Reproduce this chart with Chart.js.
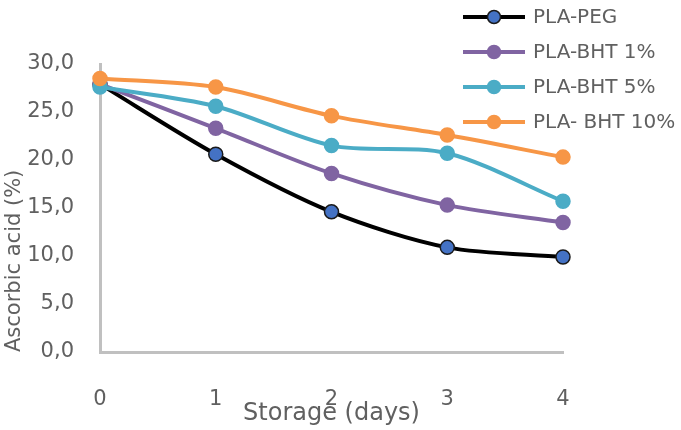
<!DOCTYPE html>
<html>
<head>
<meta charset="utf-8">
<script src="https://cdn.jsdelivr.net/npm/chart.js@4/dist/chart.umd.min.js"></script>
<style>
  html, body { margin: 0; padding: 0; background: #fff; }
  #wrap { width: 681px; height: 430px; }
</style>
</head>
<body>
<div id="wrap"><canvas id="lineChart" width="681" height="430"></canvas></div>
<script>
// data

const days = ['0', '1', '2', '3', '4'];

const seriesNames = ['PLA-PEG', 'PLA-BHT 1%', 'PLA-BHT 5%', 'PLA- BHT 10%'];

const plaPeg = [27.9, 20.6, 14.6, 10.9, 9.9];
const plaBht1 = [27.9, 23.3, 18.6, 15.3, 13.5];
const plaBht5 = [27.6, 25.6, 21.5, 20.7, 15.7];
const plaBht10 = [28.5, 27.6, 24.6, 22.6, 20.3];

const yTicks = [0, 5, 10, 15, 20, 25, 30];

const textColor = '#606060';
const fontName = '"DejaVu Sans", sans-serif';

// legend drawn top right, over the plot like in the original
const legendBox = {
    id: 'legendBox',
    afterDraw(chart) {
        const ctx = chart.ctx;
        const sets = chart.data.datasets;
        ctx.save();
        sets.forEach((ds, i) => {
            const y = 17 + i * 35;
            ctx.beginPath();
            ctx.strokeStyle = ds.borderColor;
            ctx.lineWidth = 4;
            ctx.moveTo(463, y);
            ctx.lineTo(525, y);
            ctx.stroke();
            ctx.beginPath();
            ctx.arc(494, y, 6.5, 0, Math.PI * 2);
            ctx.fillStyle = ds.pointBackgroundColor;
            ctx.fill();
            ctx.lineWidth = 1.5;
            ctx.strokeStyle = ds.pointBorderColor;
            ctx.stroke();
            ctx.fillStyle = textColor;
            ctx.font = '20px ' + fontName;
            ctx.textBaseline = 'middle';
            ctx.textAlign = 'left';
            ctx.fillText(ds.label, 533, y + 1);
        });
        ctx.restore();
    }
};

const lineChart = document.querySelector('#lineChart');

function makeSet(label, data, color, pointFill, pointBorder, order) {
    return {
        label: label,
        data: data,
        borderColor: color,
        backgroundColor: pointFill,
        pointBackgroundColor: pointFill,
        pointBorderColor: pointBorder,
        pointBorderWidth: 1.5,
        pointRadius: 7,
        pointHoverRadius: 7,
        borderWidth: 4,
        tension: 0.3,
        clip: false,
        order: order,
    };
}

new Chart(lineChart, {
    type: 'line',
    data: {
        labels: days,
        datasets: [
            makeSet(seriesNames[0], plaPeg, '#000000', '#4472C4', '#1a1a1a', 4),
            makeSet(seriesNames[1], plaBht1, '#8064A2', '#8064A2', '#8064A2', 3),
            makeSet(seriesNames[2], plaBht5, '#4BACC6', '#4BACC6', '#4BACC6', 2),
            makeSet(seriesNames[3], plaBht10, '#F79646', '#F79646', '#F79646', 1),
        ]
    },
    options: {
        responsive: false,
        animation: false,
        layout: {
            padding: { top: 64, right: 118, bottom: 0, left: 0 }
        },
        plugins: {
            legend: { display: false },
            tooltip: { enabled: false },
        },
        scales: {
            x: {
                type: 'category',
                offset: false,
                grid: { display: false, drawTicks: false },
                border: { display: true, color: '#C0C0C0', width: 3 },
                ticks: {
                    color: textColor,
                    font: { family: fontName, size: 21 },
                    padding: 35,
                    maxRotation: 0,
                },
                title: {
                    display: true,
                    text: 'Storage (days)',
                    color: textColor,
                    font: { family: fontName, size: 24 },
                    padding: { top: 0, bottom: 2 },
                },
                afterFit(scale) {
                    scale.height = 78;
                },
            },
            y: {
                min: 0,
                max: 30,
                grid: { display: false, drawTicks: false },
                border: { display: true, color: '#C0C0C0', width: 3 },
                afterBuildTicks(scale) {
                    scale.ticks = yTicks.map(v => ({ value: v }));
                },
                ticks: {
                    color: textColor,
                    font: { family: fontName, size: 21 },
                    padding: 26,
                    callback: v => v.toFixed(1).replace('.', ','),
                },
                title: {
                    display: true,
                    text: 'Ascorbic acid (%)',
                    align: 'start',
                    color: textColor,
                    font: { family: fontName, size: 21 },
                    padding: { top: 2, bottom: 0 },
                },
                afterFit(scale) {
                    scale.width = 100;
                },
            }
        }
    },
    plugins: [legendBox]
});
</script>
</body>
</html>
